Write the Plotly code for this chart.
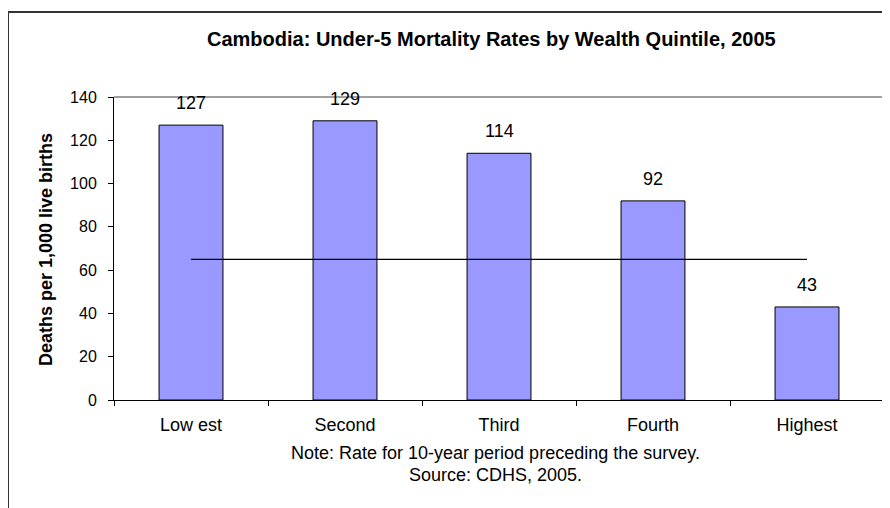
import plotly.graph_objects as go

categories = ["Low est", "Second", "Third", "Fourth", "Highest"]
rates = [127, 129, 114, 92, 43]
average_line = [65, 65, 65, 65, 65]
y_ticks = [0, 20, 40, 60, 80, 100, 120, 140]

FONT = "Liberation Sans, Arial, sans-serif"
OFF = 8  # page body margin
W, H = 890 - OFF, 508 - OFF
# plot area in reference-page pixels
PL, PR, PT, PB = 114, 884, 97, 400
ML, MR, MT, MB = PL - OFF, 890 - PR, PT - OFF, 508 - PB
PW = PR - PL
PH = PB - PT


def px_x(px):
    return (px - PL) / PW


def px_y(py):
    return (PB - py) / PH


fig = go.Figure()
fig.add_trace(go.Bar(
    x=categories, y=rates,
    marker=dict(color="#9999FF", line=dict(color="black", width=1)),
    width=0.415, showlegend=False, hoverinfo="x+y",
))
fig.add_trace(go.Scatter(
    x=categories, y=average_line, mode="lines",
    line=dict(color="black", width=1.3), showlegend=False,
))

annotations = []
for c, v in zip(categories, rates):
    annotations.append(dict(
        x=c, y=v, xref="x", yref="y", text=str(v), showarrow=False,
        yanchor="middle", yshift=22, font=dict(family=FONT, size=18, color="black"),
    ))
annotations += [
    dict(x=px_x(491), y=px_y(39), xref="paper", yref="paper",
         text="<b>Cambodia: Under-5 Mortality Rates by Wealth Quintile, 2005</b>",
         showarrow=False, xanchor="center", yanchor="middle",
         font=dict(family=FONT, size=20, color="black")),
    dict(x=px_x(46), y=px_y(250), xref="paper", yref="paper",
         text="<b>Deaths per 1,000 live births</b>", textangle=-90,
         showarrow=False, xanchor="center", yanchor="middle",
         font=dict(family=FONT, size=18, color="black")),
    dict(x=px_x(495), y=px_y(453), xref="paper", yref="paper",
         text="Note: Rate for 10-year period preceding the survey.",
         showarrow=False, xanchor="center", yanchor="middle",
         font=dict(family=FONT, size=18, color="black")),
    dict(x=px_x(495), y=px_y(475), xref="paper", yref="paper",
         text="Source: CDHS, 2005.",
         showarrow=False, xanchor="center", yanchor="middle",
         font=dict(family=FONT, size=18, color="black")),
]

shapes = [
    dict(type="line", xref="paper", yref="paper", x0=0, x1=1, y0=1, y1=1,
         line=dict(color="#808080", width=1.5)),
    dict(type="line", xref="paper", yref="paper", x0=1, x1=1, y0=0, y1=1,
         line=dict(color="#808080", width=1.5)),
    dict(type="line", xref="paper", yref="paper", x0=px_x(8), x1=px_x(895),
         y0=px_y(12), y1=px_y(12), line=dict(color="#333333", width=2)),
    dict(type="line", xref="paper", yref="paper", x0=px_x(8), x1=px_x(8),
         y0=px_y(12), y1=px_y(515), line=dict(color="#333333", width=2)),
]

fig.update_layout(
    width=W, height=H,
    margin=dict(l=ML, r=MR, t=MT, b=MB, pad=0),
    paper_bgcolor="white", plot_bgcolor="white",
    annotations=annotations, shapes=shapes,
    font=dict(family=FONT, size=16, color="black"),
)
fig.update_xaxes(
    type="category", showline=True, linecolor="black", linewidth=1,
    ticks="outside", tickson="boundaries", ticklen=5, tickcolor="black",
    ticklabelstandoff=8,
    showgrid=False, tickfont=dict(family=FONT, size=18, color="black"),
)
fig.update_yaxes(
    range=[0, 140], tickvals=y_ticks, showline=True, linecolor="black",
    linewidth=1, ticks="outside", ticklen=5, tickcolor="black",
    ticklabelstandoff=8,
    showgrid=False, zeroline=False, tickfont=dict(family=FONT, size=16, color="black"),
)

fig.write_html("out.html")
